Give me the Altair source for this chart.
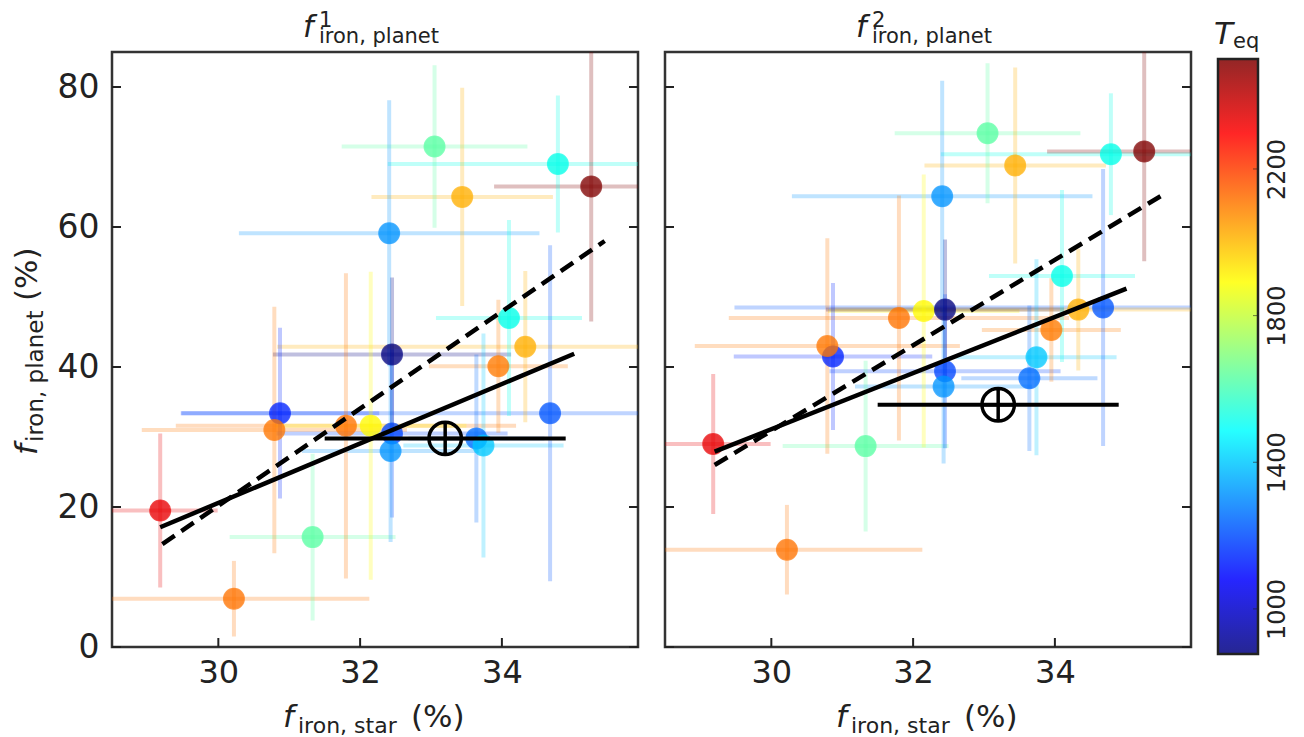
import altair as alt
import pandas as pd

# ---------------- data ----------------
STAR_FE = [29.18, 30.22, 31.33, 30.87, 30.79, 31.80, 32.15, 32.45, 32.45, 32.43, 33.64,
           33.74, 34.68, 33.95, 34.33, 33.05, 34.79, 35.26, 33.44, 32.41, 34.10]
STAR_ERR = [0.81, 1.91, 1.17, 1.40, 1.87, 2.40, 1.35, 1.68, 1.63, 1.25, 0.96,
            1.13, 5.20, 0.98, 3.50, 1.31, 2.40, 1.37, 1.28, 2.12, 1.03]
PLANET1 = [19.5, 6.9, 15.7, 33.4, 31.0, 31.6, 31.6, 41.8, 30.5, 28.0, 29.8,
           28.8, 33.4, 40.1, 42.9, 71.5, 69.0, 65.8, 64.3, 59.1, 47.0]
PLANET1_ERR = [11.0, 5.4, 11.9, 12.2, 17.6, 21.8, 22.0, 11.0, 12.0, 13.0, 12.0,
               16.0, 24.0, 9.5, 10.8, 11.6, 9.8, 19.3, 15.6, 19.0, 14.0]
PLANET2 = [29.0, 13.9, 28.7, 41.5, 43.0, 47.0, 48.0, 48.2, 39.4, 37.2, 38.4,
           41.4, 48.5, 45.3, 48.2, 73.4, 70.4, 70.8, 68.8, 64.4, 53.0]
PLANET2_ERR = [10.0, 6.4, 12.2, 10.5, 15.4, 17.5, 19.5, 10.0, 11.0, 11.0, 10.4,
               14.0, 19.8, 7.4, 8.7, 10.0, 8.7, 15.7, 14.0, 16.5, 12.3]
TEQ = [2330, 2130, 1640, 1100, 2120, 2130, 1900, 877, 1150, 1310, 1234,
       1390, 1180, 2110, 2020, 1640, 1530, 2500, 2020, 1310, 1530]

FIT1_X, FIT1_Y = [29.18, 35.02], [17.1, 41.9]
DASH1_X, DASH1_Y = [29.21, 35.45], [14.7, 58.0]
FIT2_X, FIT2_Y = [29.2, 35.01], [27.9, 51.2]
DASH2_X, DASH2_Y = [29.2, 35.49], [26.0, 64.4]

EARTH_X = [33.2]
EARTH_XERR = [1.7]
EARTH_Y1 = [29.8]
EARTH_Y2 = [34.6]

X_TICKS = [30, 32, 34]
Y_TICKS = [0, 20, 40, 60, 80]
TEQ_TICKS = [1000, 1400, 1800, 2200]
TEQ_MIN, TEQ_MAX = 877, 2500
JET = ["#00007f", "#0000ff", "#0080ff", "#00ffff", "#80ff80",
       "#ffff00", "#ff8000", "#ff0000", "#800000"]

# ---------------- styling ----------------
W, H = 526, 595
CB_W = 40
CB_TOP = 7
FONT = "DejaVu Sans"
INK = "#222222"
X_DOMAIN = [28.5, 35.92]
Y_DOMAIN = [0, 85]

stops = [TEQ_MIN + i * (TEQ_MAX - TEQ_MIN) / (len(JET) - 1) for i in range(len(JET))]
xscale = alt.Scale(domain=X_DOMAIN, nice=False, zero=False)
yscale = alt.Scale(domain=Y_DOMAIN, nice=False, zero=False)
cscale = alt.Scale(domain=stops, range=JET)
tscale = alt.Scale(domain=[TEQ_MIN, TEQ_MAX], range=[H + CB_TOP, CB_TOP], nice=False, zero=False)

XAXIS = alt.Axis(values=X_TICKS, title=None, ticks=False, domain=False, grid=False,
                 labelFontSize=32, labelPadding=10, labelColor=INK, labelFont=FONT)
YAXIS = alt.Axis(values=Y_TICKS, title=None, ticks=False, domain=False, grid=False,
                 labelFontSize=33, labelPadding=13, labelColor=INK, labelFont=FONT)
TAXIS = alt.Axis(values=TEQ_TICKS, title=None, ticks=False, domain=False, grid=False,
                 orient="right", format="d", labelFontSize=24, labelPadding=7, labelColor=INK,
                 labelFont=FONT, labelAngle=270, labelAlign="center", labelBaseline="top")


def txt(s, x, y, size, italic=False, angle=0):
    return alt.Chart(alt.Data(values=[{"t": s}])).mark_text(
        font=FONT, fontSize=size, fontStyle="italic" if italic else "normal",
        align="left", baseline="alphabetic", angle=angle, color=INK,
    ).encode(x=alt.value(x), y=alt.value(y), text="t:N")


def panel(py, perr, fx, fy, dx, dy, earth_y, sup, show_y):
    yax = YAXIS if show_y else None
    df = pd.DataFrame({"x": STAR_FE, "xerr": STAR_ERR, "y": py, "yerr": perr, "teq": TEQ})
    df["x0"] = df["x"] - df["xerr"]
    df["x1"] = df["x"] + df["xerr"]
    df["y0"] = df["y"] - df["yerr"]
    df["y1"] = df["y"] + df["yerr"]
    base = alt.Chart(df)
    color = alt.Color("teq:Q", scale=cscale, legend=None)

    hbar = base.mark_rule(strokeWidth=4, opacity=0.25, clip=True).encode(
        x=alt.X("x0:Q", scale=xscale, axis=XAXIS), x2="x1:Q",
        y=alt.Y("y:Q", scale=yscale, axis=yax), color=color)
    vbar = base.mark_rule(strokeWidth=4, opacity=0.25, clip=True).encode(
        x=alt.X("x:Q", scale=xscale, axis=XAXIS),
        y=alt.Y("y0:Q", scale=yscale, axis=yax), y2="y1:Q", color=color)
    pts = base.mark_circle(size=420, opacity=0.78, strokeWidth=1.5, strokeOpacity=0.9).encode(
        x=alt.X("x:Q", scale=xscale, axis=XAXIS),
        y=alt.Y("y:Q", scale=yscale, axis=yax), color=color,
        stroke=alt.Stroke("teq:Q", scale=cscale, legend=None))

    solid = alt.Chart(pd.DataFrame({"x": fx, "y": fy})).mark_line(
        color="black", strokeWidth=4.5).encode(
        x=alt.X("x:Q", scale=xscale, axis=XAXIS), y=alt.Y("y:Q", scale=yscale, axis=yax))
    dashed = alt.Chart(pd.DataFrame({"x": dx, "y": dy})).mark_line(
        color="black", strokeWidth=4.5, strokeDash=[15, 8]).encode(
        x=alt.X("x:Q", scale=xscale, axis=XAXIS), y=alt.Y("y:Q", scale=yscale, axis=yax))

    edf = pd.DataFrame({"x": EARTH_X, "xerr": EARTH_XERR, "y": earth_y})
    edf["x0"] = edf["x"] - edf["xerr"]
    edf["x1"] = edf["x"] + edf["xerr"]
    ebar = alt.Chart(edf).mark_rule(color="black", strokeWidth=4).encode(
        x=alt.X("x0:Q", scale=xscale, axis=XAXIS), x2="x1:Q",
        y=alt.Y("y:Q", scale=yscale, axis=yax))
    earth = alt.Chart(edf).mark_point(
        shape="M-1,0A1,1,0,1,1,1,0A1,1,0,1,1,-1,0ZM-1,0L1,0M0,-1L0,1",
        size=1050, filled=False, stroke="black", strokeWidth=3.5, opacity=1).encode(
        x=alt.X("x:Q", scale=xscale, axis=XAXIS), y=alt.Y("y:Q", scale=yscale, axis=yax))

    ytk = pd.DataFrame({"v": Y_TICKS})
    xtk = pd.DataFrame({"v": X_TICKS})
    tick_l = alt.Chart(ytk).mark_rule(color=INK, strokeWidth=2).encode(
        y=alt.Y("v:Q", scale=yscale, axis=yax), x=alt.value(0), x2=alt.value(9))
    tick_r = alt.Chart(ytk).mark_rule(color=INK, strokeWidth=2).encode(
        y=alt.Y("v:Q", scale=yscale, axis=yax), x=alt.value(W - 9), x2=alt.value(W))
    tick_b = alt.Chart(xtk).mark_rule(color=INK, strokeWidth=2).encode(
        x=alt.X("v:Q", scale=xscale, axis=XAXIS), y=alt.value(H - 9), y2=alt.value(H))

    texts = [
        txt("f", 191, -15, 30, italic=True),
        txt(sup, 207, -25, 21),
        txt("iron, planet", 207, -9, 21),
        txt("f", 171, 675, 31, italic=True),
        txt("iron, star", 186, 681, 22),
        txt("(%)", 299, 675, 31),
    ]
    if show_y:
        texts += [
            txt("f", -75, 403, 31, italic=True, angle=270),
            txt("iron, planet", -69, 390, 23, angle=270),
            txt("(%)", -75, 249, 31, angle=270),
        ]

    return alt.layer(hbar, vbar, pts, solid, dashed, ebar, earth,
                     tick_l, tick_r, tick_b, *texts).properties(width=W, height=H)


def colorbar():
    grad = alt.Gradient(
        gradient="linear", x1=0, y1=1, x2=0, y2=0,
        stops=[alt.GradientStop(offset=i / (len(JET) - 1), color=c) for i, c in enumerate(JET)],
    )
    bar = alt.Chart(alt.Data(values=[{"k": 0}])).mark_rect(
        color=grad, opacity=0.85).encode(
        x=alt.value(0), x2=alt.value(CB_W), y=alt.value(CB_TOP), y2=alt.value(H + CB_TOP))
    tks = alt.Chart(pd.DataFrame({"v": TEQ_TICKS})).mark_rule(
        color=INK, strokeWidth=1, opacity=0.6).encode(
        y=alt.Y("v:Q", scale=tscale, axis=TAXIS), x=alt.value(CB_W - 5), x2=alt.value(CB_W))
    frame = alt.Chart(alt.Data(values=[{"k": 0}])).mark_rect(
        fillOpacity=0, stroke=INK, strokeWidth=2.5).encode(
        x=alt.value(0), x2=alt.value(CB_W), y=alt.value(CB_TOP), y2=alt.value(H + CB_TOP))
    return alt.layer(
        bar, tks, frame,
        txt("T", -4, -8, 31, italic=True),
        txt("eq", 15, -4, 21),
    ).properties(width=CB_W, height=H + CB_TOP, view=alt.ViewConfig(stroke=None))


left = panel(PLANET1, PLANET1_ERR, FIT1_X, FIT1_Y, DASH1_X, DASH1_Y, EARTH_Y1, "1", True)
right = panel(PLANET2, PLANET2_ERR, FIT2_X, FIT2_Y, DASH2_X, DASH2_Y, EARTH_Y2, "2", False)

plots = alt.hconcat(left, right, spacing=21).resolve_scale(color="shared", stroke="shared")
chart = alt.hconcat(plots, colorbar(), spacing=20).properties(
    padding={"left": 2, "top": 0, "right": 2, "bottom": 0}, background="white"
).configure_view(stroke="#333333", strokeWidth=2.5)

chart.save("out.html", embed_options={"renderer": "svg", "actions": False})
